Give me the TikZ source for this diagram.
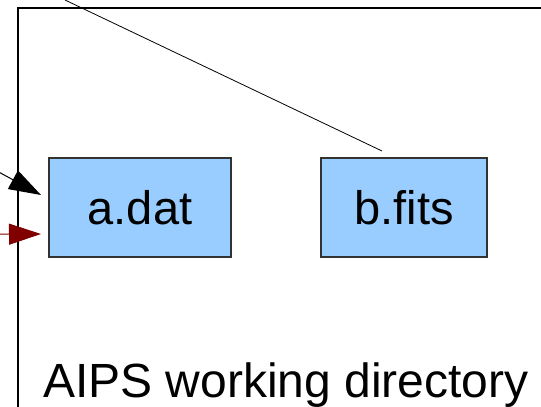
\documentclass[tikz,border=0pt]{standalone}
\usepackage{fontspec}
\setmainfont{Liberation Sans}
\usetikzlibrary{arrows.meta}
\definecolor{boxblue}{HTML}{99CCFF}
\definecolor{boxedge}{HTML}{333333}
\definecolor{darkred}{HTML}{800000}
\begin{document}
\begin{tikzpicture}[x=1pt,y=-1pt,
  filebox/.style={draw=boxedge,line width=1.5pt,fill=boxblue,inner sep=0pt,font=\fontsize{47}{52}\selectfont},
  bigarrow/.style={line width=1pt,-{Triangle[length=32pt,width=21pt]}}]
\useasboundingbox (0,0) rectangle (541,407);
\clip (0,0) rectangle (541,407);
\draw[line width=1.5pt] (18,8) rectangle (600,460);
\node[filebox,minimum width=182pt,minimum height=99pt] (adat) at (140,207.5) {a.dat};
\node[filebox,minimum width=166pt,minimum height=99pt] (bfits) at (404,207.5) {b.fits};
\node[anchor=base west,inner sep=0pt,font=\fontsize{48}{54}\selectfont] (dir) at (43,397) {AIPS working directory};
\coordinate (lstart) at (65,0);
\coordinate (lend) at (382,151);
\draw[line width=0.8pt] (lstart) -- (lend);
\coordinate (bstart) at (-10,167.3);
\coordinate (btip) at (41,195);
\draw[bigarrow] (bstart) -- (btip);
\coordinate (rstart) at (-10,234.3);
\coordinate (rtip) at (41,234);
\draw[bigarrow,darkred] (rstart) -- (rtip);
\end{tikzpicture}
\end{document}
